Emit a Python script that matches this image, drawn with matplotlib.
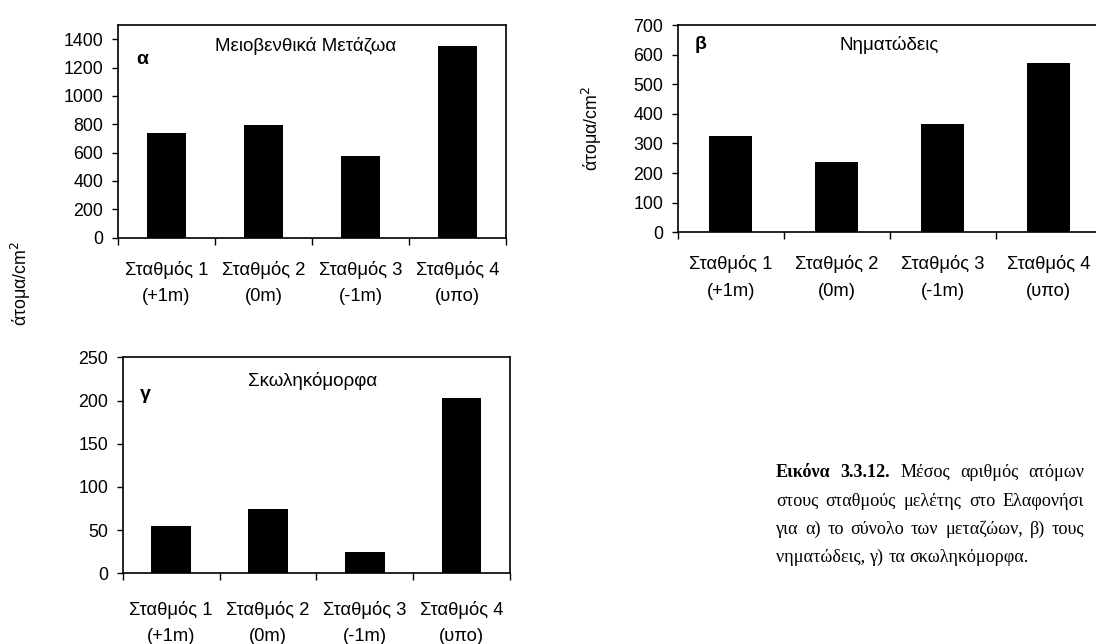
import matplotlib
matplotlib.use("Agg")
import matplotlib.pyplot as plt

plt.rcParams['font.family'] = ['Liberation Sans', 'DejaVu Sans']

# Station categories shared by all three panels
stations = ["Σταθμός 1\n(+1m)", "Σταθμός 2\n(0m)", "Σταθμός 3\n(-1m)", "Σταθμός 4\n(υπο)"]

# Mean densities (individuals / cm²)
meiofauna = [735, 794, 577, 1355]
nematodes = [326, 238, 367, 571]
vermiform = [55, 75, 25, 203]

ylab = "άτομα/cm$^2$"

W, H = 1096, 644
fig = plt.figure(figsize=(W / 100, H / 100), dpi=100)


def px_axes(left, top, right, bottom):
    return fig.add_axes([left / W, 1 - bottom / H, (right - left) / W, (bottom - top) / H])


def panel(ax, values, ymax, ystep, tmax, letter, title, letter_x, letter_y, title_x, title_y, xpad):
    x = list(range(len(values)))
    ax.bar(x, values, width=0.41, color="black", zorder=2)
    ax.set_xlim(-0.5, len(values) - 0.5)
    ax.set_ylim(0, ymax)
    ax.set_yticks(list(range(0, tmax + 1, ystep)))
    ax.set_xticks(x)
    ax.set_xticklabels(stations, fontsize=13.2, linespacing=1.72)
    ax.set_xticks([i - 0.5 for i in range(len(values) + 1)], minor=True)
    ax.tick_params(axis="x", which="major", length=0, pad=xpad)
    ax.tick_params(axis="x", which="minor", length=5, width=1, direction="out")
    ax.tick_params(axis="y", length=4.5, width=1, direction="out", pad=6, labelsize=12.8)
    for s in ax.spines.values():
        s.set_linewidth(1.2)
        s.set_color("black")
    ax.text(letter_x, letter_y, letter, transform=ax.transAxes, fontsize=14,
            fontweight="bold", ha="left", va="center")
    ax.text(title_x, title_y, title, transform=ax.transAxes, fontsize=13.5,
            ha="center", va="center")


ax_a = px_axes(118, 25, 506, 237.7)
panel(ax_a, meiofauna, 1500, 200, 1400, "α", "Μειοβενθικά Μετάζωα", 0.048, 0.84, 0.483, 0.9, 16.5)

ax_b = px_axes(677.7, 25, 1101.7, 232.3)
panel(ax_b, nematodes, 700, 100, 700, "β", "Νηματώδεις", 0.041, 0.905, 0.498, 0.905, 16.5)
ax_b.set_ylabel(ylab, fontsize=12.8, labelpad=21)

ax_c = px_axes(122.7, 357.3, 510, 573.3)
panel(ax_c, vermiform, 250, 50, 250, "γ", "Σκωληκόμορφα", 0.045, 0.83, 0.49, 0.89, 20)

# shared y label for the two left panels
fig.text(21 / W, 1 - 283 / H, ylab, rotation=90, fontsize=12.8, ha="center", va="center")

# Justified caption block
cap_lines = [
    [("Εικόνα", True), ("3.3.12.", True), ("Μέσος", False), ("αριθμός", False), ("ατόμων", False)],
    [("στους", False), ("σταθμούς", False), ("μελέτης", False), ("στο", False), ("Ελαφονήσι", False)],
    [("για", False), ("α)", False), ("το", False), ("σύνολο", False), ("των", False), ("μεταζώων,", False), ("β)", False), ("τους", False)],
    [("νηματώδεις,", False), ("γ)", False), ("τα", False), ("σκωληκόμορφα.", False)],
]
cap_left, cap_right = 776, 1084
baselines = [477, 505.5, 534, 562]
cap_font = dict(family=["Liberation Serif", "DejaVu Serif"], fontsize=13.1)

fig.canvas.draw()
renderer = fig.canvas.get_renderer()
probe_a = fig.text(0, 0, "a b", **cap_font)
probe_b = fig.text(0, 0, "ab", **cap_font)
space = probe_a.get_window_extent(renderer).width - probe_b.get_window_extent(renderer).width
probe_a.remove()
probe_b.remove()

for li, (words, yb) in enumerate(zip(cap_lines, baselines)):
    texts = []
    for w, bold in words:
        t = fig.text(0, 1 - yb / H, w, va="baseline", ha="left",
                     fontweight="bold" if bold else "normal", **cap_font)
        texts.append(t)
    widths = [t.get_window_extent(renderer).width for t in texts]
    if li == len(cap_lines) - 1:
        gap = space
    else:
        gap = (cap_right - cap_left - sum(widths)) / (len(texts) - 1)
    x = cap_left
    for t, w in zip(texts, widths):
        t.set_x(x / W)
        x += w + gap

fig.savefig("out.png", dpi=100)
